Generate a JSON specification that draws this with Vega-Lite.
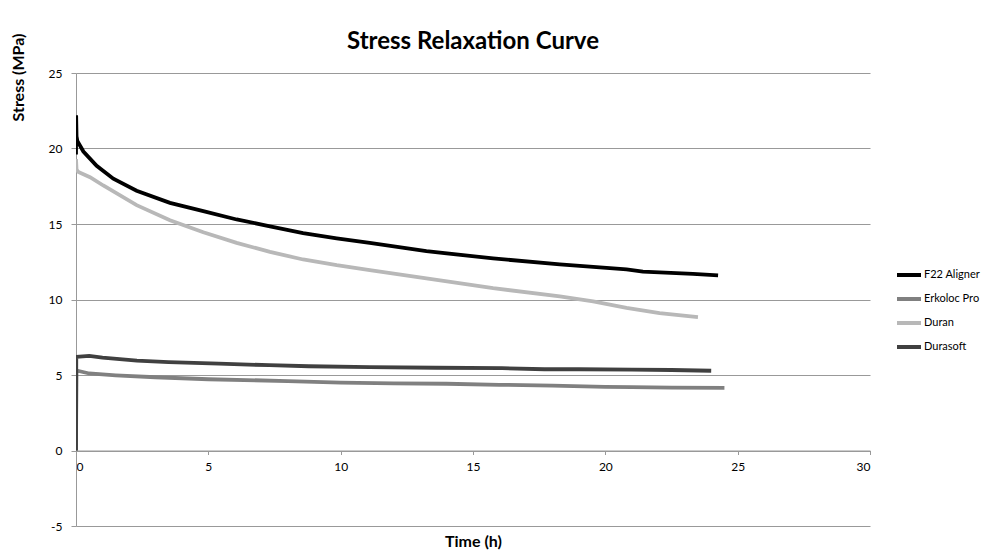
{
  "$schema": "https://vega.github.io/schema/vega-lite/v6.json",
  "width": 794,
  "height": 453,
  "autosize": {"type": "none"},
  "padding": {"left": 76, "top": 73, "right": 115, "bottom": 32},
  "background": "white",
  "title": {
    "text": "Stress Relaxation Curve",
    "anchor": "middle",
    "frame": "group",
    "font": "Lato",
    "fontSize": 24,
    "fontWeight": "bold",
    "color": "#000000",
    "offset": -21
  },
  "data": {
    "values": [
      {"series": "F22 Aligner", "t": 0, "s": 19.6},
      {"series": "F22 Aligner", "t": 0.005, "s": 22.2},
      {"series": "F22 Aligner", "t": 0.02, "s": 20.8},
      {"series": "F22 Aligner", "t": 0.05, "s": 20.5},
      {"series": "F22 Aligner", "t": 0.28, "s": 19.8},
      {"series": "F22 Aligner", "t": 0.78, "s": 18.85},
      {"series": "F22 Aligner", "t": 1.41, "s": 18.0},
      {"series": "F22 Aligner", "t": 2.29, "s": 17.2},
      {"series": "F22 Aligner", "t": 3.55, "s": 16.4},
      {"series": "F22 Aligner", "t": 4.81, "s": 15.85},
      {"series": "F22 Aligner", "t": 6.07, "s": 15.3},
      {"series": "F22 Aligner", "t": 7.33, "s": 14.85},
      {"series": "F22 Aligner", "t": 8.58, "s": 14.4},
      {"series": "F22 Aligner", "t": 9.85, "s": 14.05},
      {"series": "F22 Aligner", "t": 11.1, "s": 13.75},
      {"series": "F22 Aligner", "t": 13.24, "s": 13.2},
      {"series": "F22 Aligner", "t": 15.76, "s": 12.72},
      {"series": "F22 Aligner", "t": 18.28, "s": 12.32},
      {"series": "F22 Aligner", "t": 20.8, "s": 12.0},
      {"series": "F22 Aligner", "t": 21.42, "s": 11.85},
      {"series": "F22 Aligner", "t": 23.31, "s": 11.7},
      {"series": "F22 Aligner", "t": 24.26, "s": 11.6},
      {"series": "Erkoloc Pro", "t": 0, "s": 0},
      {"series": "Erkoloc Pro", "t": 0.015, "s": 5.3},
      {"series": "Erkoloc Pro", "t": 0.5, "s": 5.1},
      {"series": "Erkoloc Pro", "t": 1.5, "s": 4.98},
      {"series": "Erkoloc Pro", "t": 3, "s": 4.85},
      {"series": "Erkoloc Pro", "t": 5, "s": 4.72},
      {"series": "Erkoloc Pro", "t": 8, "s": 4.6},
      {"series": "Erkoloc Pro", "t": 10, "s": 4.5},
      {"series": "Erkoloc Pro", "t": 12, "s": 4.45},
      {"series": "Erkoloc Pro", "t": 14, "s": 4.42},
      {"series": "Erkoloc Pro", "t": 16, "s": 4.35},
      {"series": "Erkoloc Pro", "t": 18, "s": 4.3},
      {"series": "Erkoloc Pro", "t": 20, "s": 4.22},
      {"series": "Erkoloc Pro", "t": 21, "s": 4.2},
      {"series": "Erkoloc Pro", "t": 22.5, "s": 4.17},
      {"series": "Erkoloc Pro", "t": 24.5, "s": 4.15},
      {"series": "Duran", "t": 0, "s": 19.3},
      {"series": "Duran", "t": 0.02, "s": 18.6},
      {"series": "Duran", "t": 0.09, "s": 18.45},
      {"series": "Duran", "t": 0.53, "s": 18.1},
      {"series": "Duran", "t": 1.03, "s": 17.55},
      {"series": "Duran", "t": 2.29, "s": 16.25},
      {"series": "Duran", "t": 3.55, "s": 15.25},
      {"series": "Duran", "t": 4.81, "s": 14.45},
      {"series": "Duran", "t": 6.07, "s": 13.75},
      {"series": "Duran", "t": 7.33, "s": 13.15},
      {"series": "Duran", "t": 8.58, "s": 12.65},
      {"series": "Duran", "t": 9.85, "s": 12.27},
      {"series": "Duran", "t": 11.1, "s": 11.95},
      {"series": "Duran", "t": 13.24, "s": 11.4},
      {"series": "Duran", "t": 15.76, "s": 10.75},
      {"series": "Duran", "t": 18.28, "s": 10.2},
      {"series": "Duran", "t": 19.54, "s": 9.87},
      {"series": "Duran", "t": 20.8, "s": 9.45},
      {"series": "Duran", "t": 22.05, "s": 9.1},
      {"series": "Duran", "t": 23.5, "s": 8.84},
      {"series": "Durasoft", "t": 0, "s": 0},
      {"series": "Durasoft", "t": 0.01, "s": 6.2},
      {"series": "Durasoft", "t": 0.5, "s": 6.27},
      {"series": "Durasoft", "t": 1.0, "s": 6.15},
      {"series": "Durasoft", "t": 2.3, "s": 5.95},
      {"series": "Durasoft", "t": 3.5, "s": 5.85},
      {"series": "Durasoft", "t": 5.4, "s": 5.75},
      {"series": "Durasoft", "t": 7.3, "s": 5.65},
      {"series": "Durasoft", "t": 8.8, "s": 5.58},
      {"series": "Durasoft", "t": 11.1, "s": 5.52},
      {"series": "Durasoft", "t": 13.6, "s": 5.48},
      {"series": "Durasoft", "t": 16.1, "s": 5.45},
      {"series": "Durasoft", "t": 17.7, "s": 5.38},
      {"series": "Durasoft", "t": 19.0, "s": 5.38},
      {"series": "Durasoft", "t": 21.0, "s": 5.35},
      {"series": "Durasoft", "t": 22.5, "s": 5.33},
      {"series": "Durasoft", "t": 24.0, "s": 5.28}
    ]
  },
  "mark": {"type": "line", "strokeWidth": 3.8, "strokeCap": "butt", "clip": true},
  "encoding": {
    "x": {
      "field": "t",
      "type": "quantitative",
      "title": "Time (h)",
      "scale": {"domain": [0, 30], "nice": false, "zero": false},
      "axis": {
        "values": [0, 5, 10, 15, 20, 25, 30],
        "grid": false,
        "offset": -75.5,
        "domainColor": "#999999",
        "tickColor": "#999999",
        "tickSize": 4,
        "labelPadding": 7,
        "titleY": 91,
        "titleBaseline": "middle"
      }
    },
    "y": {
      "field": "s",
      "type": "quantitative",
      "title": "Stress (MPa)",
      "scale": {"domain": [-5, 25], "nice": false, "zero": false},
      "axis": {
        "values": [-5, 0, 5, 10, 15, 20, 25],
        "labelExpr": "'' + datum.value",
        "gridColor": "#999999",
        "domainColor": "#999999",
        "tickColor": "#999999",
        "tickSize": 5,
        "labelPadding": 9,
        "titleAngle": -90,
        "titleAlign": "center",
        "titleBaseline": "middle",
        "titleX": -58,
        "titleY": 4
      }
    },
    "color": {
      "field": "series",
      "type": "nominal",
      "title": null,
      "sort": ["F22 Aligner", "Erkoloc Pro", "Duran", "Durasoft"],
      "scale": {
        "domain": ["F22 Aligner", "Erkoloc Pro", "Duran", "Durasoft"],
        "range": ["#000000", "#808080", "#b8b8b8", "#404040"]
      },
      "legend": {
        "orient": "none",
        "legendX": 819,
        "legendY": 188,
        "symbolType": "stroke",
        "symbolSize": 576,
        "symbolStrokeWidth": 4,
        "rowPadding": 2,
        "labelFontSize": 11,
        "labelFont": "Lato",
        "labelColor": "#000000",
        "labelOffset": 1
      }
    }
  },
  "config": {
    "view": {"stroke": null},
    "axis": {
      "labelFont": "Lato",
      "labelFontSize": 12,
      "labelColor": "#000000",
      "titleFont": "Lato",
      "titleFontSize": 16,
      "titleFontWeight": "bold",
      "titleColor": "#000000",
      "gridWidth": 1
    }
  }
}
